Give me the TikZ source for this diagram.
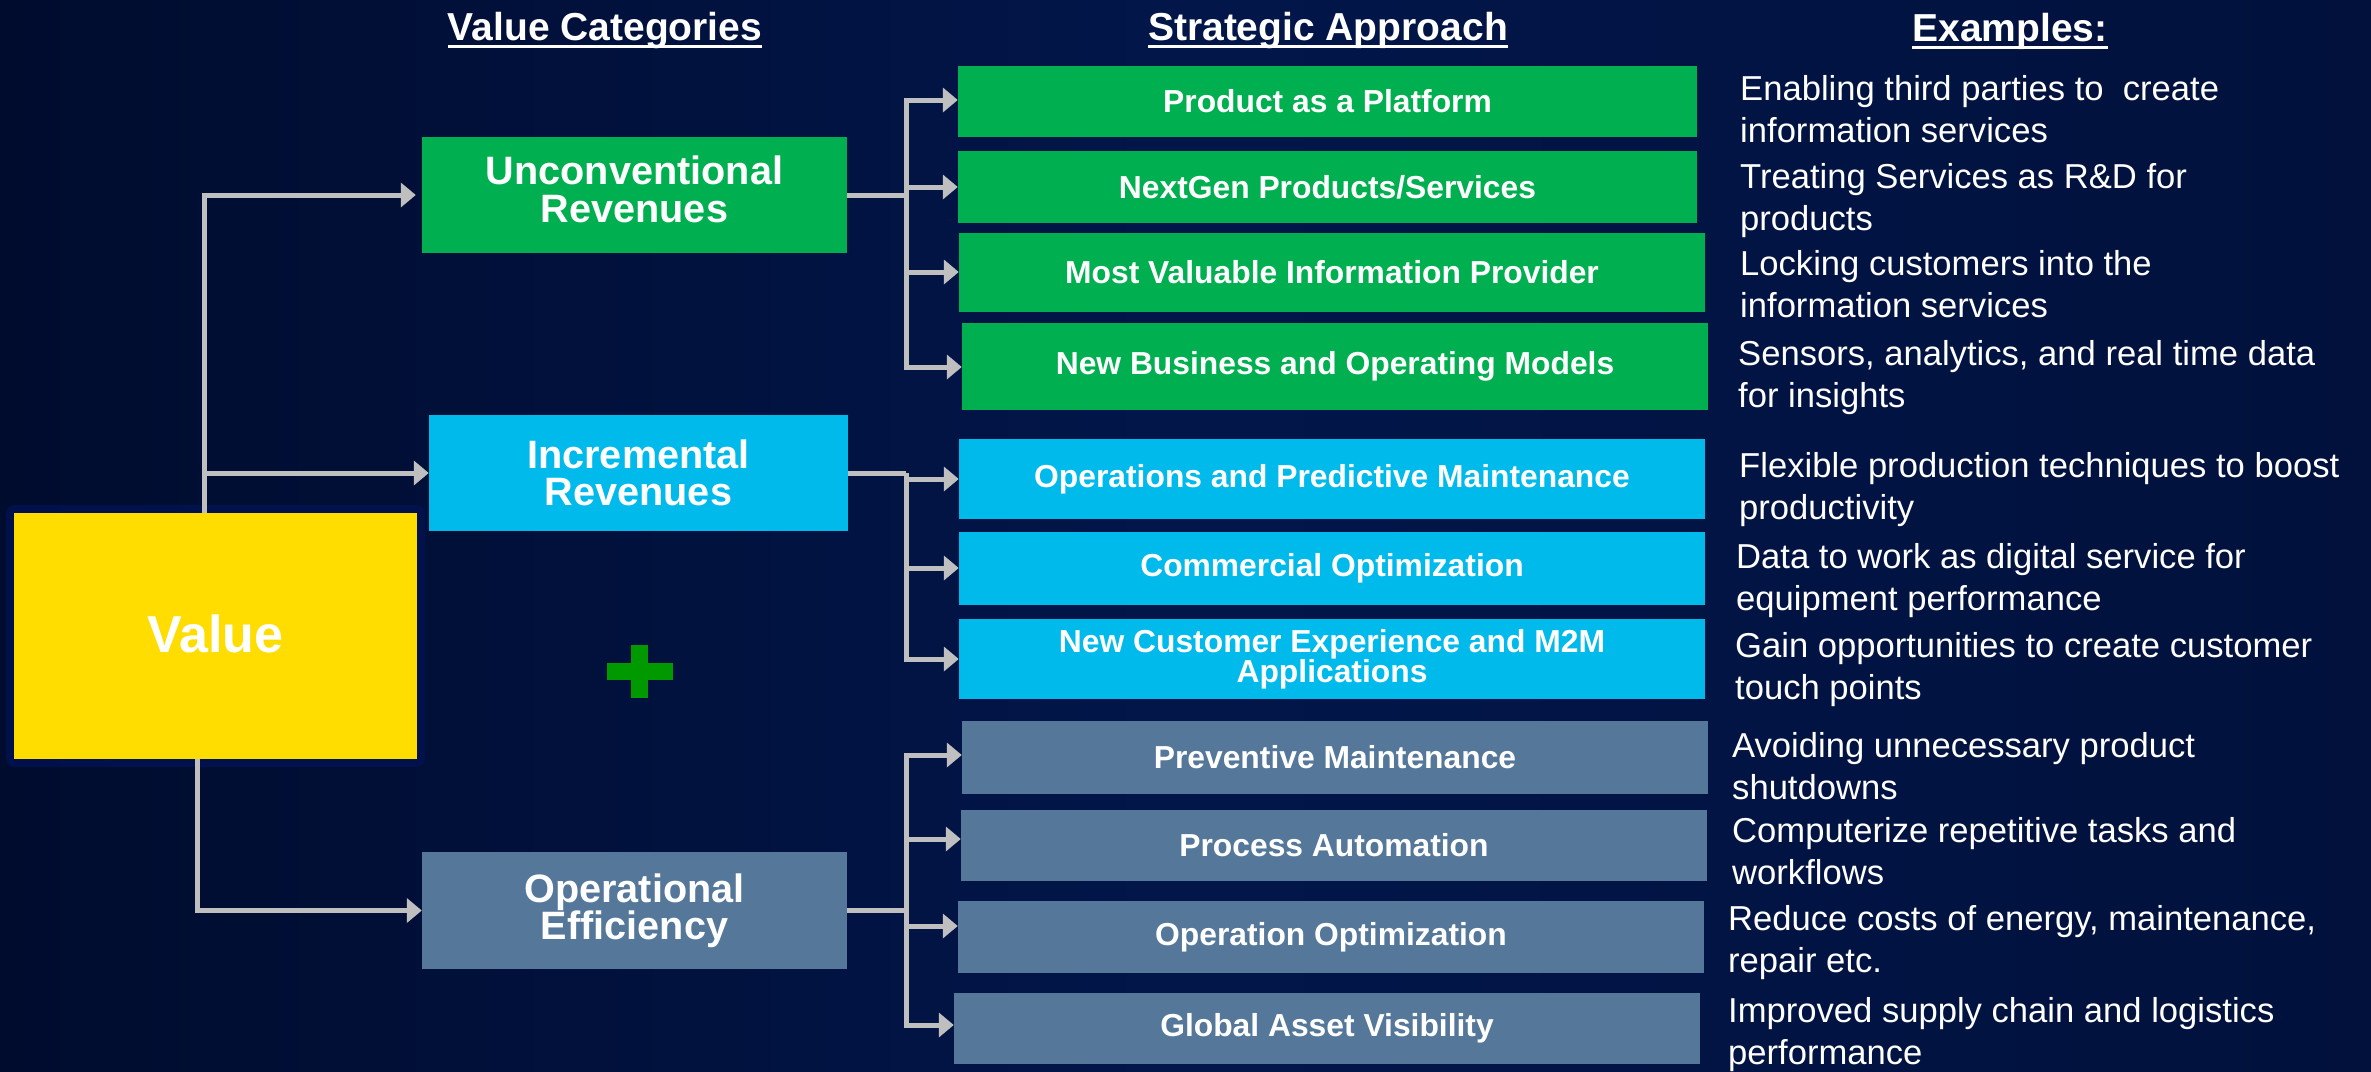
\documentclass[tikz,border=0pt]{standalone}
\usepackage{fontspec}
\setmainfont{Liberation Sans}
\usetikzlibrary{arrows.meta}
\definecolor{bgL}{RGB}{0,12,46}
\definecolor{bgM}{RGB}{2,22,74}
\definecolor{bgR}{RGB}{1,17,60}
\definecolor{valY}{RGB}{255,221,0}
\definecolor{grn}{RGB}{0,176,80}
\definecolor{cyn}{RGB}{0,186,236}
\definecolor{stl}{RGB}{85,120,154}
\definecolor{arrG}{RGB}{191,191,191}
\definecolor{plusG}{RGB}{0,153,0}
\definecolor{glow}{RGB}{0,18,82}
\newcommand{\myuline}[1]{\setbox0\hbox{#1}\rlap{\rule[-8pt]{\wd0}{3.5pt}}\box0}
\begin{document}
\begin{tikzpicture}[x=1pt,y=-1pt,
  conn/.style={draw=arrG, line width=5pt},
  arr/.style={conn, -{Triangle[width=24pt,length=15pt]}},
  sbox/.style={inner sep=0pt, text=white, font=\bfseries\fontsize{31.8}{30}\selectfont, align=center},
  cat/.style={inner sep=0pt, text=white, font=\bfseries\fontsize{39.6}{37}\selectfont, align=center},
  exnote/.style={inner sep=0pt, text=white, font=\fontsize{34.6}{42}\selectfont, align=left, anchor=base west},
  hdr/.style={inner sep=0pt, text=white, font=\bfseries\fontsize{39}{45}\selectfont, anchor=base},
]
\shade[left color=bgL, right color=bgR, middle color=bgM] (0,0) rectangle (2371,1071);
\useasboundingbox (0,0) rectangle (2371,1071);

% headers
\node[hdr] (h1) at (605,40) {\myuline{Value Categories}};
\node[hdr] (h2) at (1328,40) {\myuline{Strategic Approach}};
\node[hdr] (h3) at (2010,41) {\myuline{Examples:}};

% value box
\fill[glow, rounded corners=8pt, opacity=0.8] (6,505) rectangle (425,767);
\node[fill=valY, minimum width=403pt, minimum height=246pt, inner sep=0pt, text=white,
      font=\bfseries\fontsize{52}{52}\selectfont] (val) at (215.5,636) {\raisebox{4pt}{Value}};

% categories
\node[cat, fill=grn, minimum width=425pt, minimum height=116pt] (unc) at (634.5,195) {\raisebox{3pt}{\begin{tabular}{@{}c@{}}Unconventional\\Revenues\end{tabular}}};
\node[cat, fill=cyn, minimum width=419pt, minimum height=116pt] (inc) at (638.5,473) {Incremental\\Revenues};
\node[cat, fill=stl, minimum width=425pt, minimum height=117pt] (ope) at (634.5,910.5) {Operational\\Efficiency};

% plus
\fill[plusG] (607,663) rectangle (673,680);
\fill[plusG] (631,645) rectangle (648,698);

% strategic boxes
\node[sbox, fill=grn, minimum width=739pt, minimum height=71pt] (b1) at (1327.5,101.5) {Product as a Platform};
\node[sbox, fill=grn, minimum width=739pt, minimum height=72pt] (b2) at (1327.5,187) {NextGen Products/Services};
\node[sbox, fill=grn, minimum width=746pt, minimum height=79pt] (b3) at (1332,272.5) {Most Valuable Information Provider};
\node[sbox, fill=grn, minimum width=746pt, minimum height=87pt] (b4) at (1335,366.5) {New Business and Operating Models};
\node[sbox, fill=cyn, minimum width=746pt, minimum height=80pt] (b5) at (1332,479) {Operations and Predictive Maintenance};
\node[sbox, fill=cyn, minimum width=746pt, minimum height=73pt] (b6) at (1332,568.5) {Commercial Optimization};
\node[sbox, fill=cyn, minimum width=746pt, minimum height=80pt] (b7) at (1332,659) {New Customer Experience and M2M\\Applications};
\node[sbox, fill=stl, minimum width=746pt, minimum height=73pt] (b8) at (1335,757.5) {Preventive Maintenance};
\node[sbox, fill=stl, minimum width=746pt, minimum height=71pt] (b9) at (1334,845.5) {Process Automation};
\node[sbox, fill=stl, minimum width=746pt, minimum height=72pt] (b10) at (1331,937) {Operation Optimization};
\node[sbox, fill=stl, minimum width=746pt, minimum height=71pt] (b11) at (1327,1028.5) {Global Asset Visibility};

% left connectors
\coordinate (t1) at (204,0);
\coordinate (t2) at (197,0);
\draw[arr, shorten >=6pt] (val.north -| t1) |- (unc.west);
\draw[arr] (val.north -| t1) |- (inc.west);
\draw[arr] (val.south -| t2) |- (ope.west);

% right connectors
\coordinate (jx) at (906,0);
\coordinate (ju) at (unc.east -| jx);
\coordinate (ji) at (inc.east -| jx);
\coordinate (jo) at (ope.east -| jx);
\draw[conn] (unc.east) -- (ju);
\draw[conn] (inc.east) -- (ji);
\draw[conn] (ope.east) -- (jo);
\draw[arr] (ju) |- (b1.west |- 0,100);
\draw[arr] (ju) |- (b2.west |- 0,187);
\draw[arr] (ju) |- (b3.west |- 0,272);
\draw[arr] (ju) |- (b4.west |- 0,367);
\draw[arr] (ji) |- (b5.west |- 0,479);
\draw[arr] (ji) |- (b6.west |- 0,568);
\draw[arr] (ji) |- (b7.west |- 0,659);
\draw[arr] (jo) |- (b8.west |- 0,755);
\draw[arr] (jo) |- (b9.west |- 0,839);
\draw[arr] (jo) |- (b10.west |- 0,926);
\draw[arr] (jo) |- (b11.west |- 0,1025);

% examples (anchor = baseline of the second line)
\node[exnote] (e1) at (1740,142) {Enabling third parties to \ create\\information services};
\node[exnote] (e2) at (1740,230) {Treating Services as R\&D for\\products};
\node[exnote] (e3) at (1740,317) {Locking customers into the\\information services};
\node[exnote] (e4) at (1738,407) {Sensors, analytics, and real time data\\for insights};
\node[exnote] (e5) at (1739,519) {Flexible production techniques to boost\\productivity};
\node[exnote] (e6) at (1736,610) {Data to work as digital service for\\equipment performance};
\node[exnote] (e7) at (1735,699) {Gain opportunities to create customer\\touch points};
\node[exnote] (e8) at (1732,799) {Avoiding unnecessary product\\shutdowns};
\node[exnote] (e9) at (1732,884) {Computerize repetitive tasks and\\workflows};
\node[exnote] (e10) at (1728,972) {Reduce costs of energy, maintenance,\\repair etc.};
\node[exnote] (e11) at (1728,1064) {Improved supply chain and logistics\\performance};
\end{tikzpicture}
\end{document}
